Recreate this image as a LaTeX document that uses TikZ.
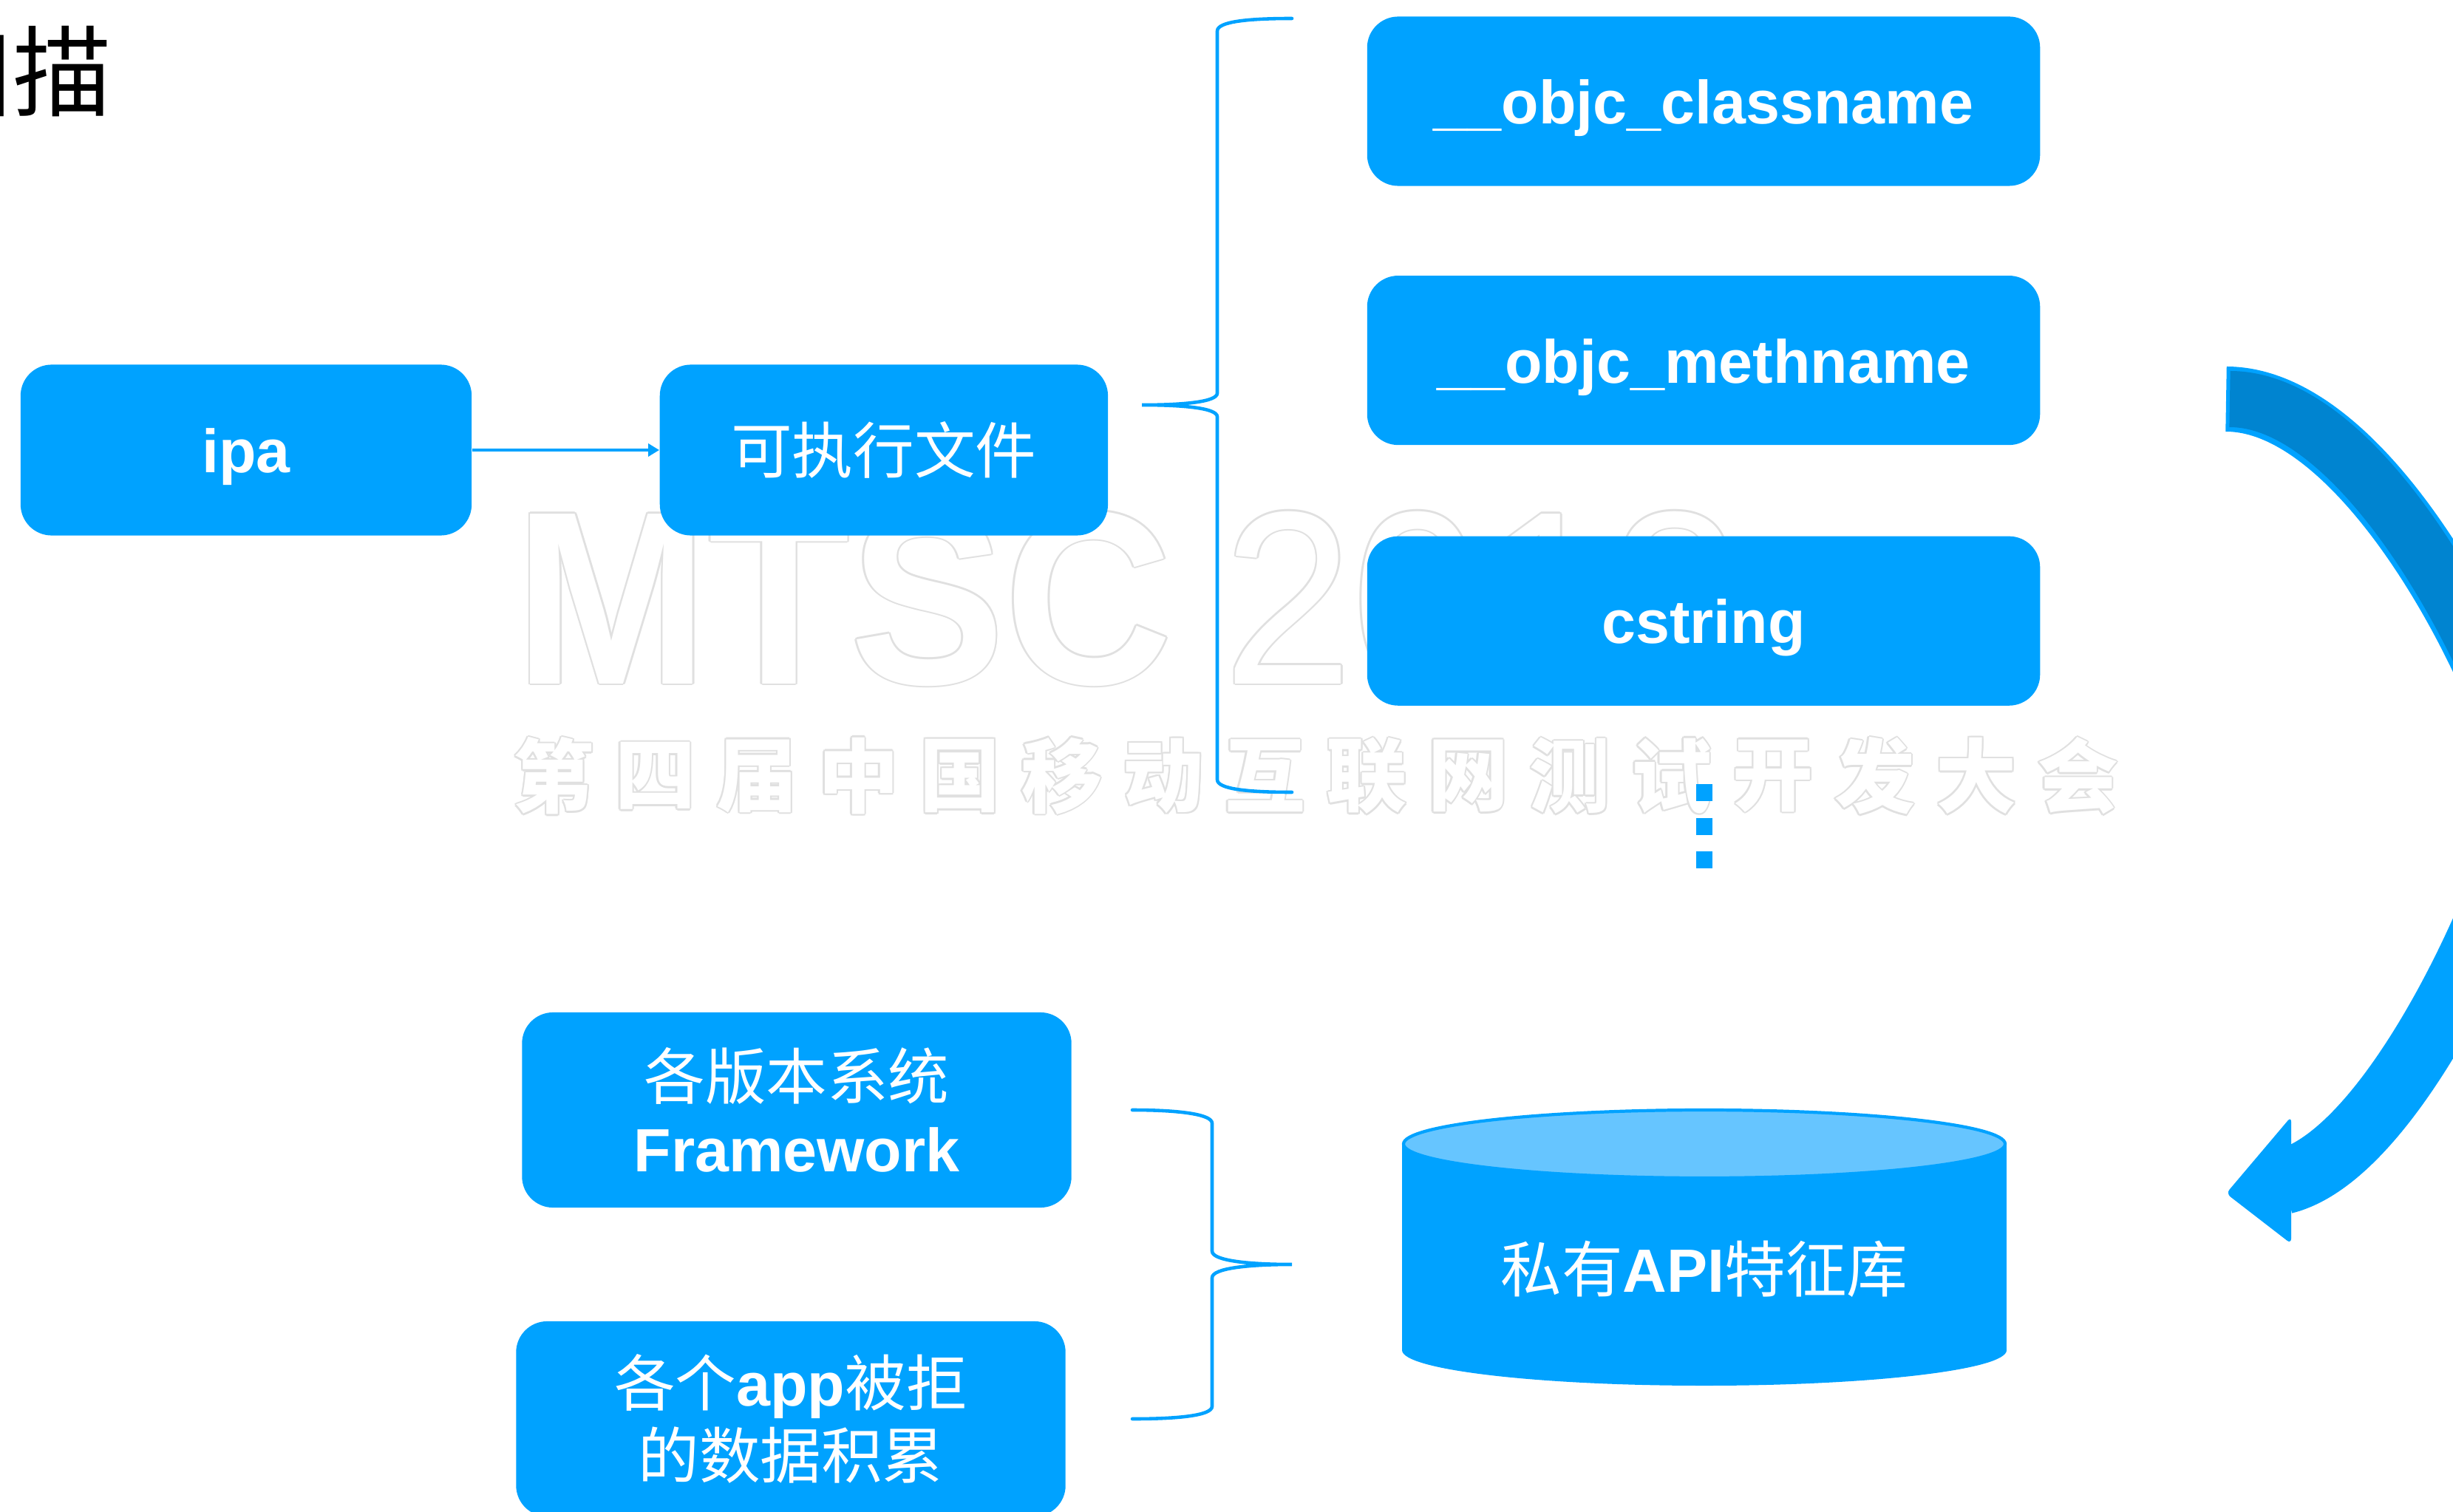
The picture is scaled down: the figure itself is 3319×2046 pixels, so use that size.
\documentclass[tikz,border=0pt]{standalone}
\usepackage{fontspec}
\setmainfont{Liberation Sans}
\newfontfamily\cjk{Noto Sans CJK SC}
\usetikzlibrary{positioning,arrows.meta}

\definecolor{mtblue}{HTML}{00A2FF}
\definecolor{mtlight}{HTML}{66C5FF}
\definecolor{mtdark}{HTML}{0084D0}

\newcommand{\zh}[1]{{\cjk #1}}

\tikzstyle{box}=[rectangle,rounded corners=0.42cm,fill=mtblue,text=white,align=center,inner sep=0pt,font=\fontsize{23.5}{28}\selectfont]
\tikzstyle{sect}=[box,minimum width=9.1cm,minimum height=2.29cm,text height=22pt,text depth=4.5pt,font=\fontsize{23.5}{28}\selectfont\bfseries]
\tikzstyle{src}=[box,minimum width=7.43cm,minimum height=2.64cm]
\tikzstyle{link}=[draw=mtblue,line width=1.4pt,-{Triangle[length=0.15cm,width=0.17cm]}]
\tikzstyle{brace}=[draw=mtblue,line width=1.3pt,line cap=round]
\tikzstyle{wmark}=[inner sep=0pt,anchor=base west,xscale=0.94,transform shape]
\tikzstyle{wmcn}=[inner sep=0pt,font=\cjk\bfseries\fontsize{31}{31}\selectfont]

\begin{document}
\begin{tikzpicture}[x=0.01cm,y=-0.01cm]
  \useasboundingbox (0,0) rectangle (3319,2046);

  \foreach \a in {0,45,...,315}{
    \node[wmark,text=black!12,shift={(\a:0.8pt)},font=\fontsize{95}{95}\selectfont\bfseries] (wmA\a) at (696,925) {MTSC};
    \node[wmark,text=black!12,shift={(\a:0.8pt)},font=\fontsize{95}{95}\selectfont] (wmB\a) at (1655,925) {2018};
  }
  \node[wmark,text=white,font=\fontsize{95}{95}\selectfont\bfseries] (wmA) at (696,925) {MTSC};
  \node[wmark,text=white,font=\fontsize{95}{95}\selectfont] (wmB) at (1655,925) {2018};
  \foreach \c [count=\i from 0] in {第,四,届,中,国,移,动,互,联,网,测,试,开,发,大,会}{
    \foreach \a in {0,45,...,315}
      \node[wmcn,text=black!12,shift={(\a:0.7pt)}] (wc\i-\a) at ({749+137.5*\i},1050) {\c};
    \node[wmcn,text=white] (wc\i) at ({749+137.5*\i},1050) {\c};
  }

  \node[anchor=east,inner sep=0pt,font=\cjk\fontsize{38}{38}\selectfont] (title) at (152,97) {扫描};

  \node[box,minimum width=6.1cm,minimum height=2.31cm,text height=22pt,text depth=4.5pt,font=\fontsize{23.5}{28}\selectfont\bfseries] (ipa) at (333,609) {ipa};
  \node[box,minimum width=6.06cm,minimum height=2.31cm,right=2.53cm of ipa] (exe) {\zh{可执行文件}};
  \draw[link] (ipa) -- (exe);

  \node[sect] (cls) at (2305,137) {\_\_objc\_classname};
  \node[sect,below=1.2cm of cls] (meth) {\_\_objc\_methname};
  \node[sect,below=1.22cm of meth] (cstr) {cstring};
  \draw[mtblue,line width=0.22cm,dash pattern=on 0.23cm off 0.225cm] (2306,1061) -- (2306,1175);

  \draw[brace] (1748,25) .. controls (1690,25) and (1647,29) .. (1647,42) -- (1647,532)
    .. controls (1647,544) and (1600,548) .. (1545,548) .. controls (1600,548) and (1647,552) .. (1647,564)
    -- (1647,1055) .. controls (1647,1068) and (1690,1072) .. (1748,1072);

  \node[src] (fw) at (1078,1502) {\zh{各版本系统}\\\textbf{Framework}};
  \node[src] (rej) at (1070,1920) {\zh{各个}\textbf{app}\zh{被拒}\\\zh{的数据积累}};

  \draw[brace] (1532,1502) .. controls (1590,1502) and (1640,1507) .. (1640,1520) -- (1640,1693)
    .. controls (1640,1706) and (1690,1711) .. (1748,1711) .. controls (1690,1711) and (1640,1716) .. (1640,1729)
    -- (1640,1903) .. controls (1640,1916) and (1590,1920) .. (1532,1920);

  \fill[mtblue] (1897,1548) rectangle (2715,1827);
  \fill[mtblue] (2306,1827) ellipse [x radius=409, y radius=48];
  \filldraw[fill=mtlight,draw=mtblue,line width=1.2pt] (2306,1548) ellipse [x radius=407, y radius=46];
  \node[text=white,font=\fontsize{23.5}{28}\selectfont] (db) at (2306,1717) {\zh{私有}\textbf{API}\zh{特征库}};

  \draw[mtblue,line width=0.88cm] (3012,540) .. controls (3220,540) and (3420,980) .. (3420,1075);
  \draw[mtdark,line width=0.76cm,shorten <=0.05cm] (3012,540) .. controls (3220,540) and (3420,980) .. (3420,1075);
  \draw[mtblue,line width=0.88cm] (3420,1075) .. controls (3420,1150) and (3250,1560) .. (3090,1599);
  \fill[mtblue,rounded corners=2pt] (3100,1511) -- (3012,1615) -- (3100,1683) -- cycle;
\end{tikzpicture}
\end{document}
